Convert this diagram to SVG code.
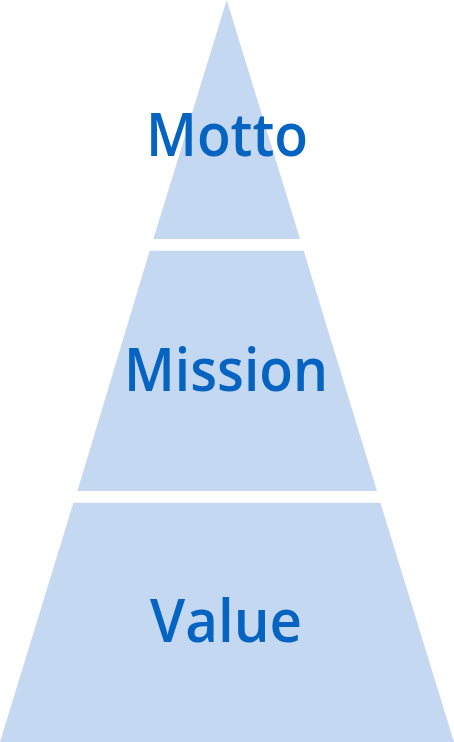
<svg xmlns="http://www.w3.org/2000/svg" width="454" height="742" viewBox="0 0 454 742">
<style>
.layer{fill:#C5D8F2;}
.lbl{font-family:"Open Sans","Noto Sans",sans-serif;font-weight:600;font-size:59px;fill:#0563C1;}
</style>
<g id="motto">
<polygon class="layer" points="226.7,0 300,239 153.4,239"/>
<text class="lbl" x="146" y="156" textLength="162" lengthAdjust="spacingAndGlyphs">Motto</text>
</g>
<g id="mission">
<polygon class="layer" points="149.7,250.7 303.7,250.7 377,491 77.4,491"/>
<text class="lbl" x="124" y="391" textLength="204" lengthAdjust="spacingAndGlyphs">Mission</text>
</g>
<g id="value">
<polygon class="layer" points="73.4,502.7 380.4,502.7 454,742 0,742"/>
<text class="lbl" x="150" y="642" textLength="152" lengthAdjust="spacingAndGlyphs">Value</text>
</g>
<g id="connectors"/>
</svg>
